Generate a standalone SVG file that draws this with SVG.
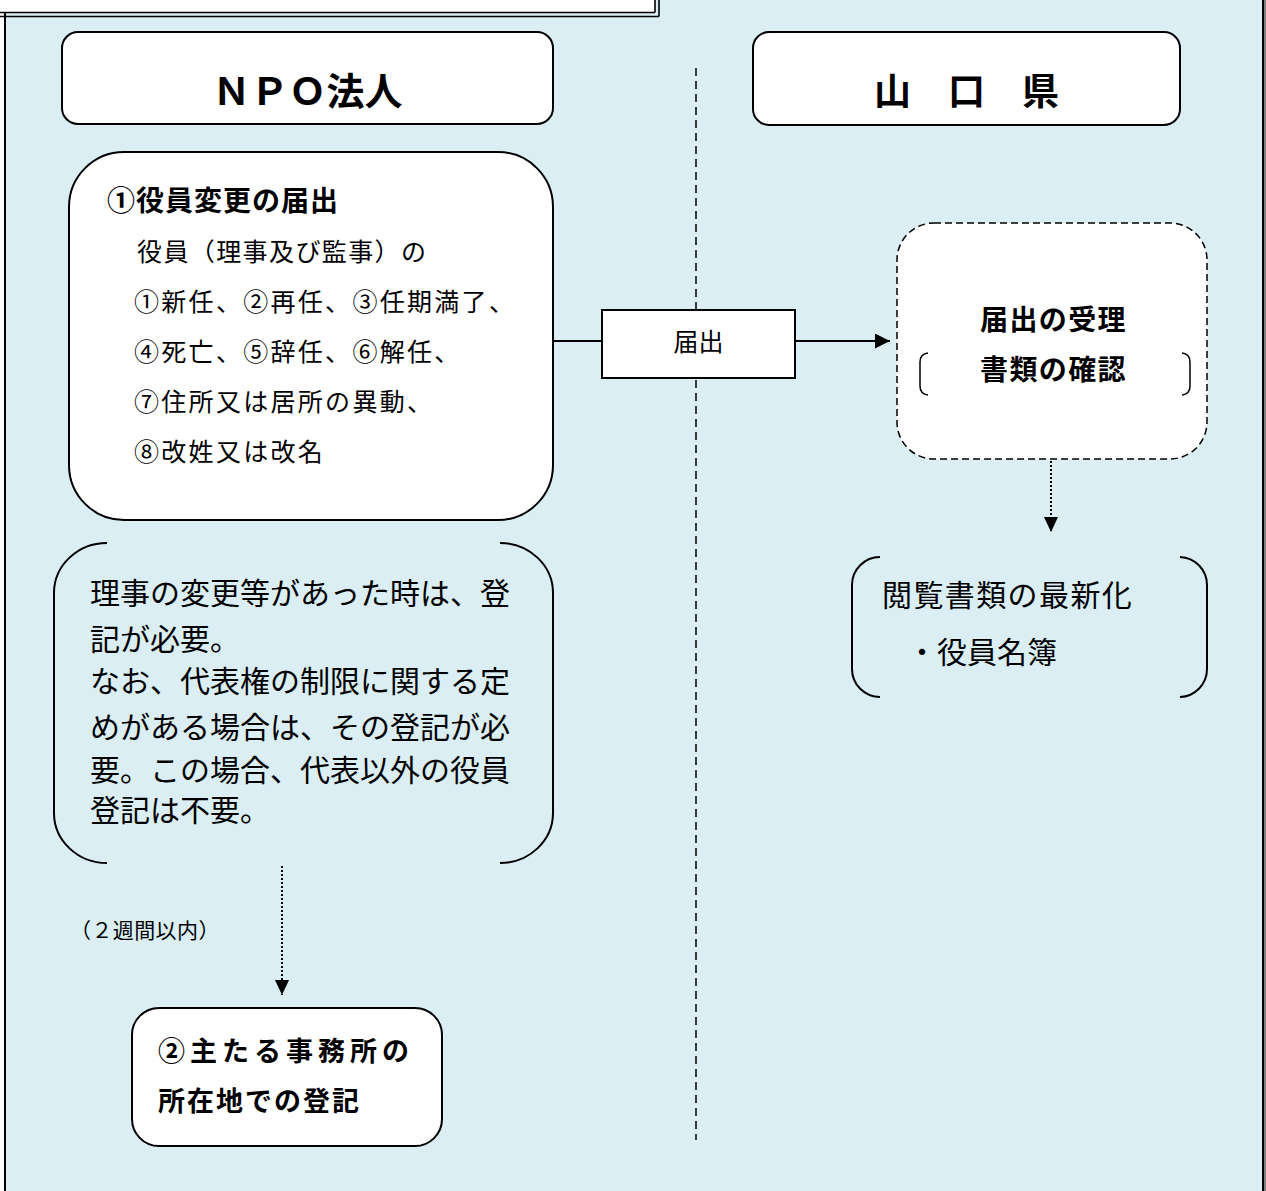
<svg xmlns="http://www.w3.org/2000/svg" width="1266" height="1191" viewBox="0 0 1266 1191">
<defs>
<style>
.box{fill:#fff;stroke:#000;stroke-width:2}
.g{font-family:"Noto Sans CJK JP","Noto Sans",sans-serif;fill:#000}
.gb{font-family:"Noto Sans CJK JP","Noto Sans",sans-serif;font-weight:bold;fill:#000}
.m{font-family:"Liberation Serif","Noto Sans CJK JP",serif;fill:#000}
.ln{stroke:#000;stroke-width:2;fill:none}
.dot{stroke:#000;stroke-width:2;stroke-dasharray:2 2;fill:none}
.brk{stroke:#000;stroke-width:1.5;fill:none}
</style>
<marker id="ah" markerUnits="userSpaceOnUse" markerWidth="16" markerHeight="15" refX="15" refY="7.5" orient="auto">
<path d="M0,0 L15,7.5 L0,15 z" fill="#000"/>
</marker>
<marker id="ahs" markerUnits="userSpaceOnUse" markerWidth="16" markerHeight="14" refX="15" refY="7" orient="auto">
<path d="M0,0 L15,7 L0,14 z" fill="#000"/>
</marker>
</defs>
<rect x="0" y="0" width="1266" height="1191" fill="#fff"/>
<g id="panel">
<rect x="5" y="-20" width="1258" height="1240" fill="#DAEEF3" stroke="#000" stroke-width="2"/>
<rect x="1264" y="0" width="2" height="1191" fill="#808080"/>
</g>
<g id="title-box">
<rect x="-10" y="-10" width="665" height="22.5" fill="#fff"/>
<line x1="0" y1="12.5" x2="655" y2="12.5" stroke="#000" stroke-width="1.6"/>
<line x1="0" y1="16.5" x2="659" y2="16.5" stroke="#000" stroke-width="1.6"/>
<line x1="655" y1="0" x2="655" y2="12.5" stroke="#000" stroke-width="1.6"/>
<line x1="659" y1="0" x2="659" y2="16.5" stroke="#000" stroke-width="1.6"/>
</g>
<g id="divider">
<line x1="696" y1="68" x2="696" y2="1140" stroke="#000" stroke-width="1.5" stroke-dasharray="8 5"/>
</g>
<g id="connectors">
<line class="ln" x1="553" y1="341" x2="602" y2="341"/>
<line class="ln" x1="795" y1="341" x2="890" y2="341" marker-end="url(#ah)"/>
<line class="dot" x1="1051" y1="461" x2="1051" y2="532" marker-end="url(#ahs)"/>
<line class="dot" x1="282" y1="866" x2="282" y2="995" marker-end="url(#ahs)"/>
</g>
<g id="npo-header">
<rect class="box" x="62" y="32" width="491" height="92" rx="16"/>
<text class="gb" x="307.5" y="105" font-size="38" text-anchor="middle">ＮＰＯ法人</text>
</g>
<g id="pref-header">
<rect class="box" x="753" y="32" width="427" height="93" rx="16"/>
<text class="gb" x="966.5" y="105" font-size="37" text-anchor="middle">山　口　県</text>
</g>
<g id="notify-box">
<rect class="box" x="69" y="152" width="484" height="368" rx="55"/>
<text class="gb" x="107" y="211" font-size="28" letter-spacing="1">①役員変更の届出</text>
<g class="m" font-size="25" letter-spacing="2.3">
<text x="137" y="261" letter-spacing="1.4">役員（理事及び監事）の</text>
<text x="134" y="311">①新任、②再任、③任期満了、</text>
<text x="134" y="361">④死亡、⑤辞任、⑥解任、</text>
<text x="134" y="411">⑦住所又は居所の異動、</text>
<text x="134" y="461">⑧改姓又は改名</text>
</g>
</g>
<g id="todoke-label">
<rect class="box" x="602" y="310" width="193" height="68"/>
<text class="m" x="698.5" y="351" font-size="25" text-anchor="middle">届出</text>
</g>
<g id="receipt-box">
<rect x="897" y="223" width="310" height="236" rx="37" fill="#fff" stroke="#000" stroke-width="1.5" stroke-dasharray="7 4"/>
<text class="gb" x="980" y="330" font-size="28" letter-spacing="1.4">届出の受理</text>
<text class="gb" x="980" y="380" font-size="28" letter-spacing="1.4">書類の確認</text>
<path class="brk" d="M928,353 Q920,354 920,362 L920,386 Q920,394 928,395"/>
<path class="brk" d="M1182,353 Q1190,354 1190,362 L1190,386 Q1190,394 1182,395"/>
</g>
<g id="update-box">
<path class="ln" stroke-width="1.5" d="M880,557 A28,28 0 0 0 852,585 L852,669 A28,28 0 0 0 880,697"/>
<path class="ln" stroke-width="1.5" d="M1180,557 A28,28 0 0 1 1207,585 L1207,669 A28,28 0 0 1 1180,697"/>
<text class="g" x="882" y="606" font-size="30" letter-spacing="1.4">閲覧書類の最新化</text>
<text class="g" x="907" y="663" font-size="30">・役員名簿</text>
</g>
<g id="note-box">
<path class="ln" stroke-width="1.5" d="M107,543 A53,50 0 0 0 54,593 L54,813 A53,50 0 0 0 107,863"/>
<path class="ln" stroke-width="1.5" d="M500,543 A53,50 0 0 1 553,593 L553,813 A53,50 0 0 1 500,863"/>
<g class="g" font-size="30">
<text x="90" y="604">理事の変更等があった時は、登</text>
<text x="90" y="650">記が必要。</text>
<text x="90" y="692">なお、代表権の制限に関する定</text>
<text x="90" y="738">めがある場合は、その登記が必</text>
<text x="90" y="781">要。この場合、代表以外の役員</text>
<text x="90" y="821">登記は不要。</text>
</g>
</g>
<g id="period-label">
<text class="m" x="70" y="938" font-size="21" letter-spacing="0.4">（２週間以内）</text>
</g>
<g id="register-box">
<rect class="box" x="132" y="1008" width="310" height="138" rx="27"/>
<text class="gb" x="158" y="1061" font-size="27" letter-spacing="5">②主たる事務所の</text>
<text class="gb" x="158" y="1111" font-size="27" letter-spacing="2">所在地での登記</text>
</g>
</svg>
